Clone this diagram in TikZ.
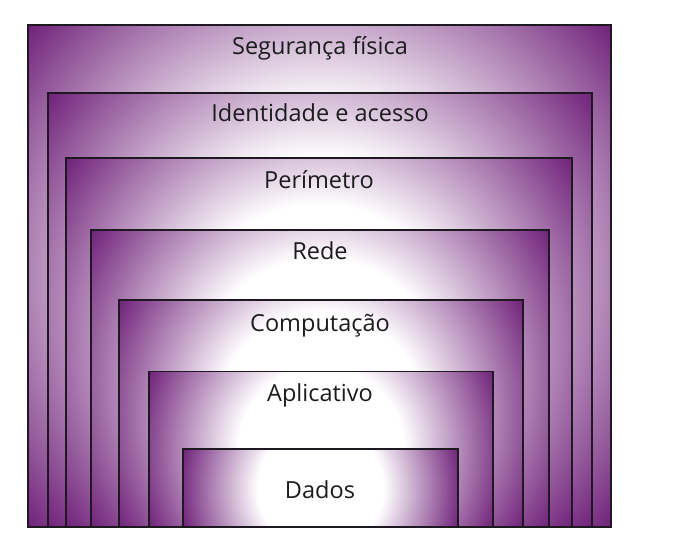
\documentclass[tikz,border=0pt]{standalone}
\usepackage{fontspec}
\setmainfont{Open Sans}
\usetikzlibrary{calc}
\definecolor{lay}{RGB}{112,34,122}
\definecolor{edge}{RGB}{30,24,32}
\definecolor{txt}{RGB}{28,28,30}
\pgfdeclareradialshading{layershade}{\pgfpointorigin}{color(0bp)=(white); color(11bp)=(white); color(25bp)=(lay); color(50bp)=(lay)}
\tikzset{
  layerbox/.style={draw=edge, line width=1.3bp, inner sep=0pt, outer sep=0pt,
    path picture={
      \path let \p1=($(path picture bounding box.north east)-(path picture bounding box.center)$),
                \n1={veclen(\x1,\y1)} in
        [shading=layershade] (path picture bounding box.center) circle [radius=\n1];
    }},
  lbl/.style={anchor=base, inner sep=0pt, text=txt, font=\fontsize{23.6}{28}\selectfont}
}
\begin{document}
\begin{tikzpicture}[x=1bp,y=-1bp]
\useasboundingbox (0,0) rectangle (679,550);
\node[layerbox, minimum width=583bp, minimum height=502bp] (b1) at (319.5,276) {};
\node[layerbox, minimum width=544bp, minimum height=434bp] (b2) at (320,310) {};
\node[layerbox, minimum width=506bp, minimum height=369bp] (b3) at (319,342.5) {};
\node[layerbox, minimum width=458bp, minimum height=297bp] (b4) at (320,378.5) {};
\node[layerbox, minimum width=404bp, minimum height=227bp] (b5) at (321,413.5) {};
\node[layerbox, minimum width=344bp, minimum height=155.5bp] (b6) at (321,449.25) {};
\node[layerbox, minimum width=275bp, minimum height=78bp] (b7) at (320.5,488) {};
\node[lbl] (t1) at (320,54.5) {Segurança física};
\node[lbl] (t2) at (320,122) {Identidade e acesso};
\node[lbl] (t3) at (319,188.5) {Perímetro};
\node[lbl] (t4) at (320,259.5) {Rede};
\node[lbl] (t5) at (320,331) {Computação};
\node[lbl] (t6) at (320,401.5) {Aplicativo};
\node[lbl] (t7) at (320,498.5) {Dados};
\end{tikzpicture}
\end{document}
